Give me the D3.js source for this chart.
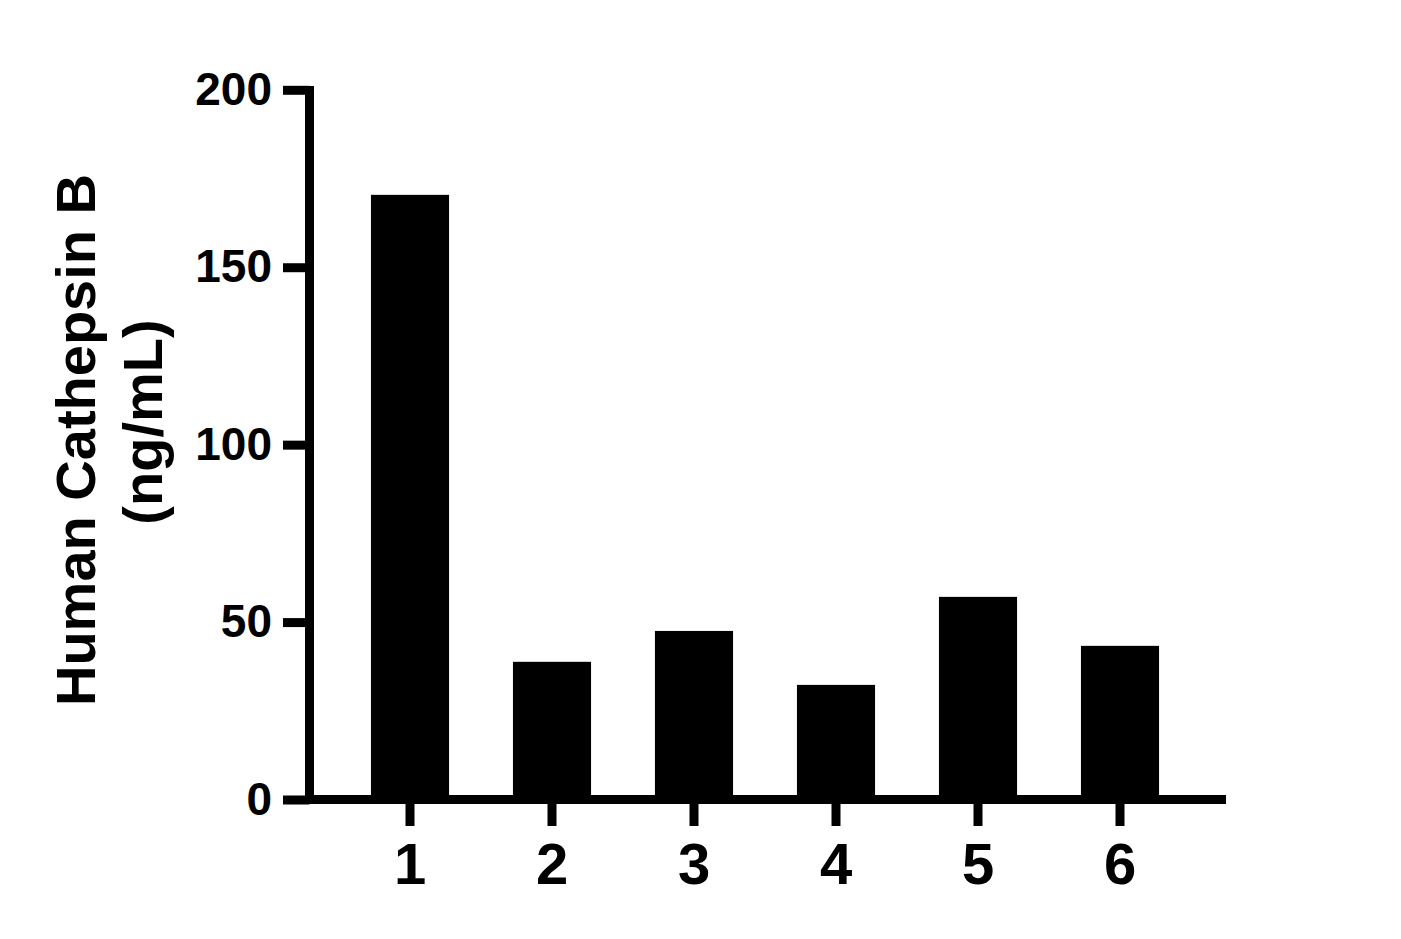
<!DOCTYPE html>
<html>
<head>
<meta charset="utf-8">
<script src="https://cdn.jsdelivr.net/npm/d3@7"></script>
<style>
  body { margin: 0; background: #fff; }
  svg { display: block; }
  .axis text { font-family: "Liberation Sans", Arial, sans-serif; font-weight: bold; fill: #000; }
</style>
</head>
<body>
<div id="chart"></div>
<script>
//---------------------------DATA-------------------------------//
const categories = ["1", "2", "3", "4", "5", "6"];
const values = [170.4, 38.8, 47.5, 32.3, 57.1, 43.3];
const yTicks = [0, 50, 100, 150, 200];
const yTitle = ["Human Cathepsin B", "(ng/mL)"];

//---------------------------SVG--------------------------------//
const width = 1401;
const height = 939;
const axisW = 9;

const svg = d3.select("#chart").append("svg")
    .attr("width", width)
    .attr("height", height);

//---------------------------SCALES-----------------------------//
const xScale = d3.scaleBand()
    .domain(categories)
    .range([339, 1191])
    .paddingInner(0.45)
    .paddingOuter(0.225);

const yScale = d3.scaleLinear()
    .domain([0, 200])
    .range([799.5, 89.8]);

//---------------------------BARS-------------------------------//
svg.append("g")
    .selectAll("rect")
    .data(values)
    .enter()
    .append("rect")
    .attr("x", (d, i) => xScale(categories[i]))
    .attr("width", xScale.bandwidth())
    .attr("y", d => yScale(d))
    .attr("height", d => yScale(0) - yScale(d))
    .attr("fill", "#000");

//---------------------------AXES-------------------------------//
const xAxisY = yScale(0);
const yAxisX = 309.5;

const yaxis = d3.axisLeft(yScale)
    .tickValues(yTicks)
    .tickSize(26.5)
    .tickPadding(11);

const gy = svg.append("g")
    .attr("class", "axis")
    .attr("transform", "translate(" + yAxisX + ",0)")
    .call(yaxis);
gy.select(".domain").remove();
gy.selectAll(".tick line").attr("stroke", "#000").attr("stroke-width", axisW);
gy.selectAll(".tick text").style("font-size", "46px");

const xaxis = d3.axisBottom(xScale)
    .tickSize(26.5)
    .tickPadding(17);

const gx = svg.append("g")
    .attr("class", "axis")
    .attr("transform", "translate(0," + xAxisY + ")")
    .call(xaxis);
gx.select(".domain").remove();
gx.selectAll(".tick line").attr("stroke", "#000").attr("stroke-width", axisW);
gx.selectAll(".tick text").style("font-size", "58px");

// axis lines
svg.append("line")
    .attr("x1", yAxisX).attr("x2", yAxisX)
    .attr("y1", 86).attr("y2", xAxisY + axisW / 2)
    .attr("stroke", "#000").attr("stroke-width", axisW);

svg.append("line")
    .attr("x1", yAxisX - axisW / 2).attr("x2", 1226)
    .attr("y1", xAxisY).attr("y2", xAxisY)
    .attr("stroke", "#000").attr("stroke-width", axisW);

//---------------------------TITLE------------------------------//
const titleCentres = [[95, 440], [162, 422]];
svg.append("g")
    .attr("class", "axis")
    .selectAll("text")
    .data(yTitle)
    .enter()
    .append("text")
    .attr("transform", (d, i) => "translate(" + titleCentres[i][0] + "," + titleCentres[i][1] + ") rotate(-90)")
    .attr("text-anchor", "middle")
    .style("font-size", "56px")
    .text(d => d);
</script>
</body>
</html>
